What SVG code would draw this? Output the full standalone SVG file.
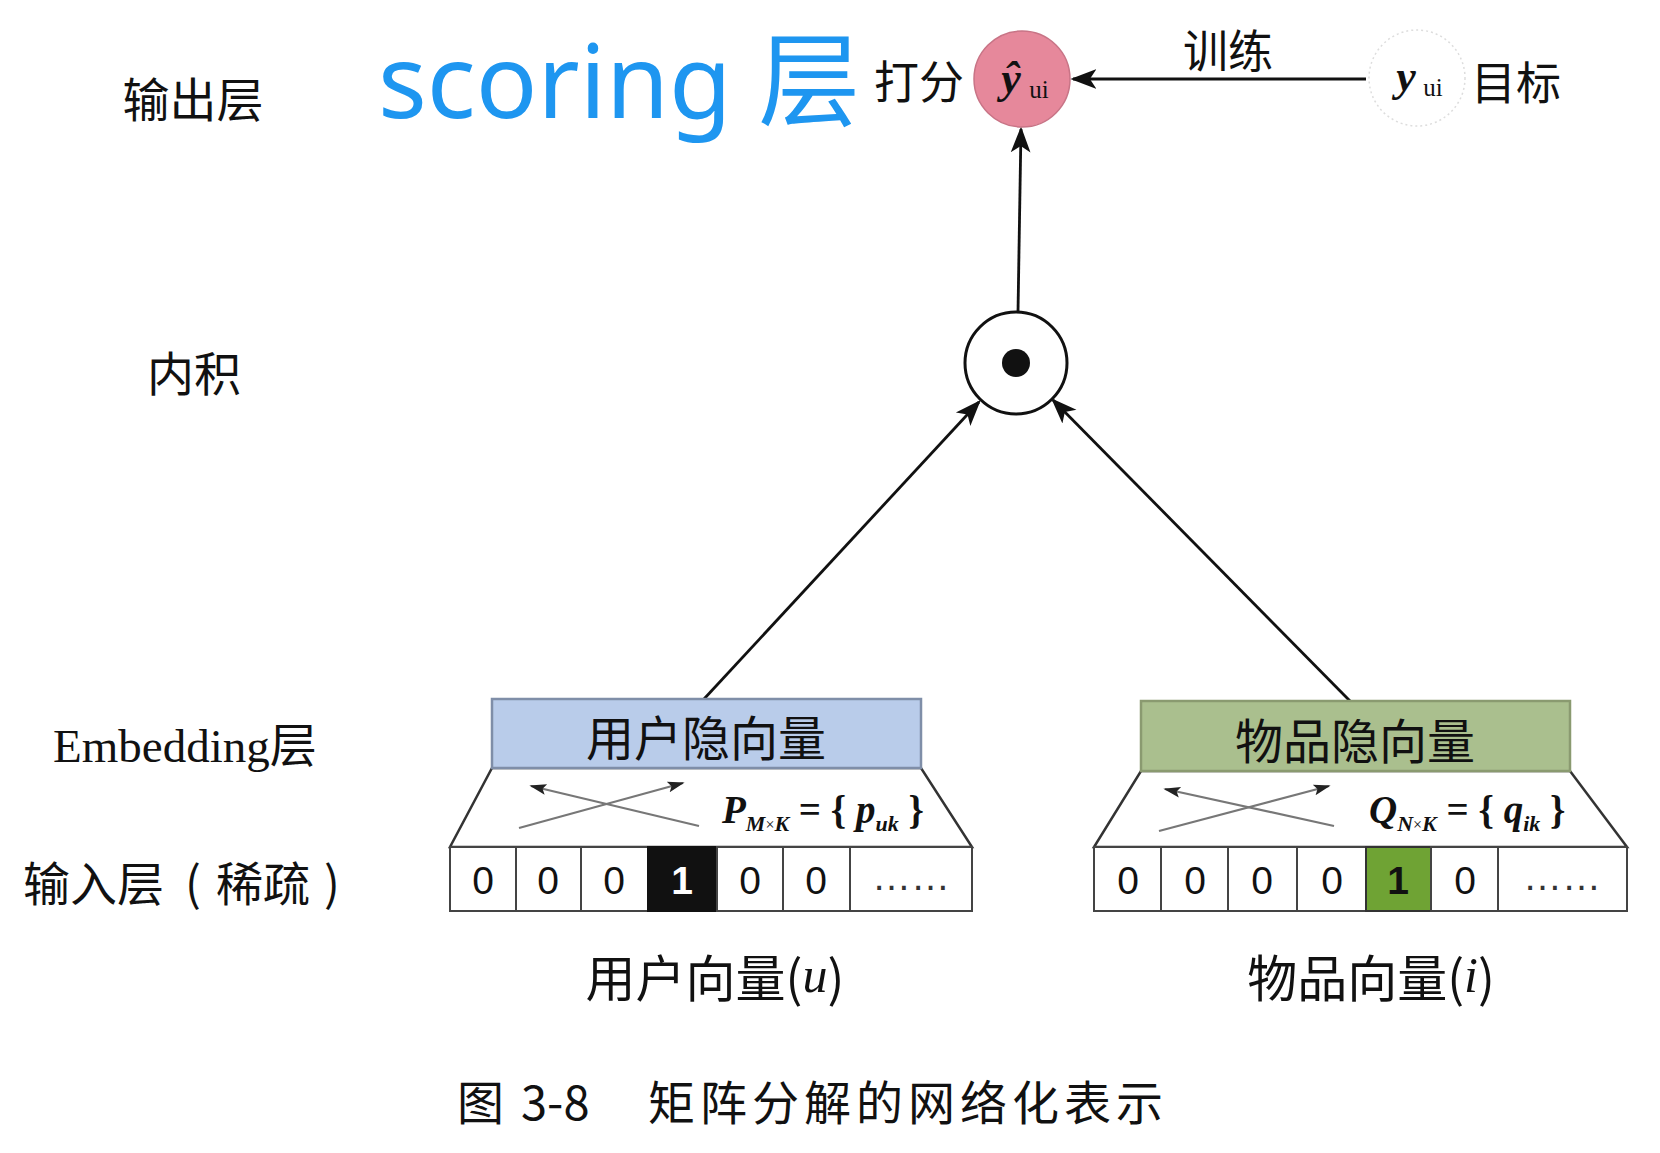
<svg xmlns="http://www.w3.org/2000/svg" width="1660" height="1153" viewBox="0 0 1660 1153">
<defs>
<style>
.cjk{font-family:"Noto Sans CJK SC","Noto Sans",sans-serif;fill:#111;}
.ser{font-family:"Liberation Serif",serif;fill:#111;}
.lbl{font-size:47px;}
.dig{font-family:"Liberation Sans","DejaVu Sans",sans-serif;font-size:39px;fill:#111;text-anchor:middle;dominant-baseline:central;}
.cell{fill:#fff;stroke:#444;stroke-width:2;}
.edge{stroke:#111;stroke-width:2.8;fill:none;}
.xarr{stroke:#777;stroke-width:2.2;fill:none;}
</style>
<marker id="ahb" viewBox="0 0 10 10" refX="9" refY="5" markerWidth="26" markerHeight="26" orient="auto" markerUnits="userSpaceOnUse">
<path d="M0,1.2 L10,5 L0,8.8 L2.5,5 Z" fill="#111"/>
</marker>
<marker id="ahs" viewBox="0 0 10 10" refX="9" refY="5" markerWidth="17" markerHeight="17" orient="auto" markerUnits="userSpaceOnUse">
<path d="M0,1.8 L10,5 L0,8.2 L2,5 Z" fill="#222"/>
</marker>
</defs>
<rect width="1660" height="1153" fill="#fff"/>

<g id="layer-labels">
<text class="cjk lbl" x="193" y="96" text-anchor="middle" dominant-baseline="central">输出层</text>
<text class="cjk lbl" x="194" y="370" text-anchor="middle" dominant-baseline="central">内积</text>
<text x="53" y="762" font-size="47"><tspan class="ser">Embedding</tspan><tspan class="cjk">层</tspan></text>
<text class="cjk" font-size="47" y="880" dominant-baseline="central"><tspan x="23">输入层</tspan><tspan x="185">(</tspan><tspan x="216">稀疏</tspan><tspan x="324">)</tspan></text>
</g>

<g id="scoring-label">
<text x="378" y="118" font-family="'Noto Sans','Noto Sans CJK SC',sans-serif" font-size="102" fill="#1E96F0">scoring <tspan font-family="'Noto Sans CJK SC',sans-serif">层</tspan></text>
</g>

<g id="connectors">
<line class="edge" x1="1366" y1="79" x2="1073" y2="79" marker-end="url(#ahb)"/>
<line class="edge" x1="1018" y1="312" x2="1021" y2="129" marker-end="url(#ahb)"/>
<line class="edge" x1="704" y1="699" x2="979" y2="402" marker-end="url(#ahb)"/>
<line class="edge" x1="1350" y1="701" x2="1053" y2="400" marker-end="url(#ahb)"/>
</g>

<g id="node-yhat">
<circle cx="1022" cy="79" r="48" fill="#E6889B" stroke="#c87486" stroke-width="1.5"/>
<text x="1011" y="93" class="ser" font-size="44" font-weight="bold" font-style="italic" text-anchor="middle">ŷ</text>
<text x="1039" y="98" class="ser" font-size="25" text-anchor="middle">ui</text>
<text class="cjk" font-size="45" x="919" y="79" text-anchor="middle" dominant-baseline="central">打分</text>
</g>

<g id="node-y">
<circle cx="1417" cy="78" r="48" fill="#fff" stroke="#ddd" stroke-width="1.5" stroke-dasharray="2 3"/>
<text x="1406" y="91" class="ser" font-size="44" font-weight="bold" font-style="italic" text-anchor="middle">y</text>
<text x="1433" y="96" class="ser" font-size="25" text-anchor="middle">ui</text>
<text class="cjk" font-size="45" x="1516" y="80" text-anchor="middle" dominant-baseline="central">目标</text>
</g>

<g id="label-train">
<text class="cjk" font-size="45" x="1228" y="48" text-anchor="middle" dominant-baseline="central">训练</text>
</g>

<g id="node-dot">
<circle cx="1016" cy="363" r="51" fill="#fff" stroke="#111" stroke-width="3"/>
<circle cx="1016" cy="363" r="14" fill="#111"/>
</g>

<g id="node-user">
<path d="M492,768 L921,768 L972,847 L450,847 Z" fill="#fff" stroke="#333" stroke-width="2.5"/>
<rect x="492" y="699" width="429" height="69" fill="#B9CCEA" stroke="#7f8ea8" stroke-width="2.5"/>
<text class="cjk" font-size="48" x="706" y="735" text-anchor="middle" dominant-baseline="central">用户隐向量</text>
<line class="xarr" x1="519" y1="828" x2="683" y2="783" marker-end="url(#ahs)"/>
<line class="xarr" x1="699" y1="826" x2="531" y2="786" marker-end="url(#ahs)"/>
<text x="722" y="823" class="ser" font-size="39" font-weight="bold" font-style="italic">P<tspan font-size="22" dy="8">M</tspan><tspan font-size="16" font-style="normal" font-weight="normal" dy="-1">×</tspan><tspan font-size="22" dy="1">K</tspan><tspan dy="-8" font-style="normal"> = { </tspan>p<tspan font-size="22" dy="8">uk</tspan><tspan dy="-8" font-style="normal"> }</tspan></text>
<rect class="cell" x="450" y="847" width="66" height="64"/>
<rect class="cell" x="516" y="847" width="65" height="64"/>
<rect class="cell" x="581" y="847" width="67" height="64"/>
<rect x="648" y="847" width="69" height="64" fill="#111" stroke="#111" stroke-width="2"/>
<rect class="cell" x="717" y="847" width="66" height="64"/>
<rect class="cell" x="783" y="847" width="67" height="64"/>
<rect class="cell" x="850" y="847" width="122" height="64"/>
<text class="dig" x="483" y="880">0</text>
<text class="dig" x="548" y="880">0</text>
<text class="dig" x="614" y="880">0</text>
<text class="dig" x="682" y="880" style="fill:#fff" font-weight="bold" font-size="32">1</text>
<text class="dig" x="750" y="880">0</text>
<text class="dig" x="816" y="880">0</text>
<text class="dig" x="911" y="876" font-size="20" style="fill:#333">……</text>
<text class="cjk" font-size="50" x="715" y="975" text-anchor="middle" dominant-baseline="central">用户向量(<tspan class="ser" font-style="italic">u</tspan>)</text>
</g>

<g id="node-item">
<path d="M1141,771 L1570,771 L1627,847 L1094,847 Z" fill="#fff" stroke="#333" stroke-width="2.5"/>
<rect x="1141" y="701" width="429" height="70" fill="#AABF8E" stroke="#8a9a70" stroke-width="2.5"/>
<text class="cjk" font-size="48" x="1355" y="738" text-anchor="middle" dominant-baseline="central">物品隐向量</text>
<line class="xarr" x1="1159" y1="831" x2="1329" y2="786" marker-end="url(#ahs)"/>
<line class="xarr" x1="1334" y1="826" x2="1165" y2="789" marker-end="url(#ahs)"/>
<text x="1369" y="823" class="ser" font-size="39" font-weight="bold" font-style="italic">Q<tspan font-size="22" dy="8">N</tspan><tspan font-size="16" font-style="normal" font-weight="normal" dy="-1">×</tspan><tspan font-size="22" dy="1">K</tspan><tspan dy="-8" font-style="normal"> = { </tspan>q<tspan font-size="22" dy="8">ik</tspan><tspan dy="-8" font-style="normal"> }</tspan></text>
<rect class="cell" x="1094" y="847" width="67" height="64"/>
<rect class="cell" x="1161" y="847" width="67" height="64"/>
<rect class="cell" x="1228" y="847" width="69" height="64"/>
<rect class="cell" x="1297" y="847" width="69" height="64"/>
<rect x="1366" y="847" width="65" height="64" fill="#6FA334" stroke="#333" stroke-width="2"/>
<rect class="cell" x="1431" y="847" width="67" height="64"/>
<rect class="cell" x="1498" y="847" width="129" height="64"/>
<text class="dig" x="1128" y="880">0</text>
<text class="dig" x="1195" y="880">0</text>
<text class="dig" x="1262" y="880">0</text>
<text class="dig" x="1332" y="880">0</text>
<text class="dig" x="1398" y="880" font-weight="bold" font-size="32">1</text>
<text class="dig" x="1465" y="880">0</text>
<text class="dig" x="1562" y="876" font-size="20" style="fill:#333">……</text>
<text class="cjk" font-size="50" x="1371" y="975" text-anchor="middle" dominant-baseline="central">物品向量(<tspan class="ser" font-style="italic">i</tspan>)</text>
</g>

<g id="caption">
<text class="cjk" font-size="47" x="457" y="1099" dominant-baseline="central">图</text>
<text class="cjk" font-size="47" x="521" y="1099" dominant-baseline="central">3-8</text>
<text class="cjk" font-size="47" x="648" y="1099" dominant-baseline="central" letter-spacing="5">矩阵分解的网络化表示</text>
</g>
</svg>
